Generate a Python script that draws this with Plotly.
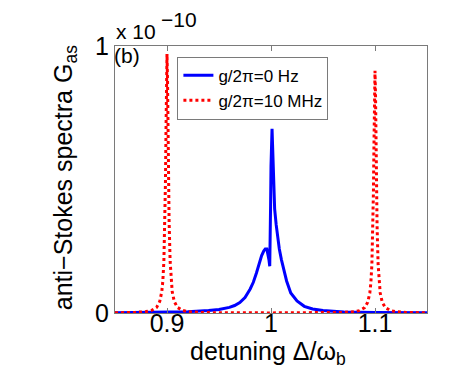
import plotly.graph_objects as go

# values in units of 1e-10
x_blue = [0.85, 0.88, 0.9, 0.92, 0.94, 0.95, 0.96, 0.965, 0.97, 0.975, 0.98, 0.983, 0.986,
          0.989, 0.991, 0.993, 0.9945, 0.996, 0.997, 0.998, 0.9988, 0.9992, 0.9996, 1.0,
          1.0005, 1.001, 1.0015, 1.002, 1.003, 1.0035, 1.005, 1.0065, 1.008, 1.01, 1.0125,
          1.015, 1.019, 1.025, 1.032, 1.04, 1.05, 1.07, 1.1, 1.15]
y_blue = [0.001, 0.002, 0.003, 0.005, 0.009, 0.013, 0.021, 0.028, 0.039, 0.058, 0.09, 0.115, 0.15,
          0.19, 0.215, 0.232, 0.240, 0.240, 0.225, 0.20, 0.175, 0.25, 0.40, 0.55,
          0.66, 0.69, 0.63, 0.54, 0.43, 0.39, 0.33, 0.28, 0.24, 0.20, 0.165,
          0.12, 0.075, 0.045, 0.025, 0.015, 0.009, 0.004, 0.002, 0.001]

x_red = [0.85, 0.86, 0.87, 0.88, 0.885, 0.89, 0.893, 0.895, 0.896, 0.897, 0.898, 0.8985, 0.899,
         0.8995, 0.9, 0.9005, 0.901, 0.9015, 0.902, 0.903, 0.904, 0.905, 0.907, 0.91, 0.915,
         0.92, 0.93, 0.95, 1.0, 1.05, 1.07, 1.08, 1.085, 1.09, 1.093, 1.095, 1.096, 1.097,
         1.098, 1.0985, 1.099, 1.0995, 1.1, 1.1005, 1.101, 1.1015, 1.102, 1.103, 1.104, 1.105,
         1.107, 1.11, 1.115, 1.12, 1.13, 1.15]
y_red = [0.0009, 0.0014, 0.0024, 0.0054, 0.0096, 0.021, 0.043, 0.080, 0.12, 0.194, 0.349, 0.485, 0.671,
         0.873, 0.97, 0.873, 0.671, 0.485, 0.349, 0.194, 0.12, 0.080, 0.043, 0.021, 0.0096,
         0.0054, 0.0024, 0.0009, 0.0004, 0.0008, 0.0023, 0.005, 0.009, 0.020, 0.040, 0.075, 0.112, 0.181,
         0.326, 0.454, 0.627, 0.816, 0.907, 0.816, 0.627, 0.454, 0.326, 0.181, 0.112, 0.075,
         0.040, 0.020, 0.009, 0.005, 0.0023, 0.0008]

x_ticks = [0.9, 1.0, 1.1]
x_ticktext = ["0.9", "1", "1.1"]
y_ticks = [0, 1]
y_ticktext = ["0", "1"]

FONT = "Liberation Sans, Arial, Helvetica, sans-serif"
AX = "#7a7a7a"

fig = go.Figure()
fig.add_trace(go.Scatter(x=x_blue, y=y_blue, mode="lines", name="g/2π=0 Hz",
                         line=dict(color="#0000ff", width=3)))
fig.add_trace(go.Scatter(x=x_red, y=y_red, mode="lines", name="g/2π=10 MHz",
                         line=dict(color="#ff0000", width=3, dash="dot")))

fig.update_layout(
    width=469, height=384,
    margin=dict(l=107, r=50, t=38, b=79),
    paper_bgcolor="white", plot_bgcolor="white",
    font=dict(family=FONT, color="black", size=25),
    showlegend=True,
    legend=dict(x=0.2, y=0.96, xanchor="left", yanchor="top",
                bgcolor="white", bordercolor=AX, borderwidth=1,
                font=dict(size=17, family=FONT), tracegroupgap=0,
                itemwidth=30),
    xaxis=dict(range=[0.85, 1.15], tickvals=x_ticks, ticktext=x_ticktext,
               ticks="inside", ticklen=5, tickcolor=AX, showline=True, linecolor=AX,
               linewidth=1, mirror="ticks", showgrid=False, zeroline=False,
               tickfont=dict(size=25), ticklabelstandoff=-12),
    yaxis=dict(range=[0, 1], tickvals=y_ticks, ticktext=y_ticktext,
               ticks="inside", ticklen=5, tickcolor=AX, showline=True, linecolor=AX,
               linewidth=1, mirror="ticks", showgrid=False, zeroline=False,
               tickfont=dict(size=25), ticklabelstandoff=0),
    annotations=[
        dict(text="detuning Δ/ω<sub>b</sub>", xref="paper", yref="paper",
             x=0.49, y=-0.082, xanchor="center", yanchor="top", showarrow=False,
             font=dict(size=25)),
        dict(text="anti−Stokes spectra G<sub>as</sub>", xref="paper", yref="paper",
             x=-0.16, y=0.505, xanchor="center", yanchor="middle", textangle=-90,
             showarrow=False, font=dict(size=25)),
        dict(text="(b)", xref="paper", yref="paper", x=-0.01, y=1.015,
             xanchor="left", yanchor="top", showarrow=False, font=dict(size=21)),
        dict(text="x 10", xref="paper", yref="paper", x=-0.003, y=1.005,
             xanchor="left", yanchor="bottom", showarrow=False, font=dict(size=21)),
        dict(text="−10", xref="paper", yref="paper", x=0.14, y=1.05,
             xanchor="left", yanchor="bottom", showarrow=False, font=dict(size=21)),
    ],
)

fig.write_html("out.html")
